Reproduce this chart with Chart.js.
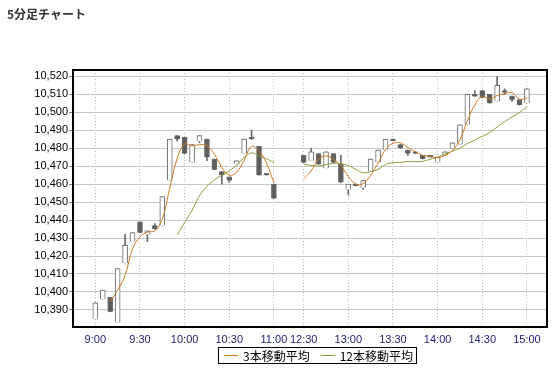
<!DOCTYPE html>
<html lang="ja">
<head>
<meta charset="UTF-8">
<title>5分足チャート</title>
<script src="https://cdn.jsdelivr.net/npm/chart.js"></script>
<style>
    body {
        margin: 0;
        background: #fff;
        font-family: 'Liberation Sans', Arial, 'Noto Sans CJK JP', sans-serif;
    }
    #wrap {
        position: relative;
        width: 559px;
        height: 368px;
    }
    #title {
        position: absolute;
        left: 7px;
        top: 6px;
        font: bold 12px 'Noto Sans CJK JP', sans-serif;
        line-height: 16px;
        color: #333;
    }
    #legend {
        position: absolute;
        left: 218px;
        top: 347px;
        width: 197px;
        height: 15px;
        border: 1px solid #000;
        display: flex;
        align-items: center;
        font: 12px 'Noto Sans CJK JP', sans-serif;
        line-height: 15px;
        color: #000;
    }
    .swatch {
        display: inline-block;
        width: 14px;
        height: 1px;
        margin: 0 5px 0 5px;
    }
</style>
</head>
<body>
<div id="wrap">
    <canvas id="chart" width="559" height="368"></canvas>
    <div id="title">5分足チャート</div>
    <div id="legend">
        <span class="swatch" style="background:#cc7a22"></span><span>3本移動平均</span>
        <span class="swatch" style="background:#8a9b3a; margin-left:11px"></span><span>12本移動平均</span>
    </div>
</div>

<script>
    // 5-minute bars: morning 9:00-11:00, afternoon 12:30-15:00
    const times = ['9:00','9:05','9:10','9:15','9:20','9:25','9:30','9:35','9:40','9:45','9:50','9:55',
        '10:00','10:05','10:10','10:15','10:20','10:25','10:30','10:35','10:40','10:45','10:50','10:55','11:00',
        '12:30','12:35','12:40','12:45','12:50','12:55','13:00','13:05','13:10','13:15','13:20','13:25',
        '13:30','13:35','13:40','13:45','13:50','13:55','14:00','14:05','14:10','14:15','14:20','14:25',
        '14:30','14:35','14:40','14:45','14:50','14:55','15:00'];

    const open = [10385,10396,10397,10383,10416,10428,10439,10432,10437,10437,10462,10487,
        10486,10472,10484,10485,10474,10467,10464,10471,10477,10486,10481,10466,10460,
        10476,10473,10477,10469,10477,10471,10457,10460,10458,10467,10472,10479,
        10485,10482,10479,10478,10476,10476,10472,10476,10480,10482,10493,10510,
        10512,10510,10506,10512,10509,10507,10505];
    const high = [10394,10401,10397,10413,10432,10433,10439,10434,10438,10453,10485,10487,
        10486,10482,10487,10485,10474,10467,10464,10473,10485,10490,10481,10466,10460,
        10476,10480,10477,10478,10477,10476,10460,10460,10462,10474,10479,10485,
        10485,10482,10479,10478,10476,10476,10475,10478,10483,10493,10510,10512,
        10512,10510,10520,10513,10509,10507,10513];
    const low = [10385,10396,10389,10383,10416,10428,10433,10428,10435,10437,10462,10484,
        10477,10472,10483,10473,10468,10460,10461,10471,10477,10485,10465,10465,10452,
        10472,10473,10471,10469,10472,10461,10454,10459,10457,10467,10472,10479,
        10484,10480,10476,10477,10474,10475,10472,10476,10480,10482,10493,10509,
        10508,10505,10506,10510,10506,10504,10505];
    const close = [10394,10401,10389,10413,10426,10433,10433,10434,10435,10453,10485,10485,
        10477,10482,10487,10475,10468,10465,10462,10473,10485,10485,10465,10465,10452,
        10472,10478,10471,10478,10472,10461,10460,10459,10462,10474,10479,10485,
        10484,10480,10477,10477,10474,10475,10475,10478,10483,10493,10510,10509,
        10508,10505,10515,10511,10507,10504,10513];

    const ma3 = [null,null,10394.7,10401,10409.3,10424,10430.7,10433.3,10434,10440.7,10457.7,10474.3,
        10482.3,10481.3,10482,10481.3,10476.7,10469.3,10465,10466.7,10473.3,10481,10478.3,10471.7,10460.7,
        10463,10467.3,10473.7,10475.7,10473.7,10470.3,10464.3,10460,10460.3,10465,10471.7,10479.3,
        10482.7,10483,10480.3,10478,10476,10475.3,10474.7,10476,10478.7,10484.7,10495.3,10504,
        10509,10507.3,10509.3,10510.3,10511,10507.3,10508];
    const ma12 = [null,null,null,null,null,null,null,null,null,null,null,10431.8,
        10438.7,10445.4,10453.6,10458.8,10462.3,10464.9,10467.3,10470.6,10474.8,10477.4,10475.8,10474.1,10472,
        10471.2,10470.4,10470.1,10470.9,10471.5,10471.4,10470.3,10468.2,10466.3,10467,10468.2,10470.9,
        10471.9,10472.1,10472.6,10472.5,10472.7,10473.8,10475.1,10476.7,10478.4,10480,10482.6,10484.6,
        10486.6,10488.7,10491.8,10494.7,10497.4,10499.8,10503];

    const xTickLabels = ['9:00','9:30','10:00','10:30','11:00','12:30','13:00','13:30','14:00','14:30','15:00'];
    const yTicks = [10390,10400,10410,10420,10430,10440,10450,10460,10470,10480,10490,10500,10510,10520];

    const morningBars = 25;
    const lunchGap = 3;   // empty slots between 11:00 and 12:30
    const slotOf = i => i < morningBars ? i : i + lunchGap;

    function linePoints(values) {
        const pts = [];
        values.forEach((v, i) => {
            if (i === morningBars) pts.push({ x: morningBars + 1, y: null });
            pts.push({ x: slotOf(i), y: v });
        });
        return pts;
    }

    const bodies = times.map((t, i) => ({ x: slotOf(i), y: [open[i], close[i]] }));
    const wicks = times.map((t, i) => ({ x: slotOf(i), y: [low[i], high[i]] }));

    const frame = {
        id: 'frame',
        afterDraw(c) {
            const { ctx, chartArea: a } = c;
            ctx.save();
            ctx.strokeStyle = '#000';
            ctx.lineWidth = 2;
            ctx.strokeRect(a.left, a.top, a.right - a.left, a.bottom - a.top);
            ctx.restore();
        }
    };

    new Chart(document.getElementById('chart'), {
        type: 'bar',
        data: {
            datasets: [
                {
                    type: 'line', label: '3本移動平均', data: linePoints(ma3),
                    borderColor: '#cc7a22', borderWidth: 1, pointRadius: 0, tension: 0.4, order: 0
                },
                {
                    type: 'line', label: '12本移動平均', data: linePoints(ma12),
                    borderColor: '#8a9b3a', borderWidth: 1, pointRadius: 0, tension: 0.4, order: 0
                },
                {
                    label: 'body', data: bodies, grouped: false, order: 1,
                    barThickness: 5, minBarLength: 1, borderWidth: 1, borderColor: '#6a6a6a',
                    backgroundColor: ctx => close[ctx.dataIndex] >= open[ctx.dataIndex] ? '#ffffff' : '#5e5e5e'
                },
                {
                    label: 'wick', data: wicks, grouped: false, order: 2,
                    barThickness: 1, backgroundColor: '#6a6a6a'
                }
            ]
        },
        options: {
            responsive: false,
            animation: false,
            layout: { padding: { top: 70, right: 12, left: 0, bottom: 0 } },
            plugins: { legend: { display: false }, tooltip: { enabled: false } },
            scales: {
                x: {
                    type: 'linear', min: -3, max: 60.7, offset: false,
                    grid: { color: '#bdbdbd', drawTicks: false, offset: false },
                    border: { display: false, dash: [1, 2] },
                    ticks: {
                        color: '#1c1c6e', padding: 6, autoSkip: false, maxRotation: 0,
                        font: { size: 11, family: "'Liberation Sans', Arial" },
                        callback: v => {
                            const t = xTickLabels.find(l => slotOf(times.indexOf(l)) === v);
                            return t || '';
                        }
                    },
                    afterBuildTicks: s => { s.ticks = xTickLabels.map(l => ({ value: slotOf(times.indexOf(l)) })); },
                    afterFit: s => { s.height = 41; }
                },
                y: {
                    min: 10380.5, max: 10523.5,
                    grid: { color: '#c8c8c8', tickLength: 4, tickColor: '#808080' },
                    border: { display: false },
                    ticks: {
                        color: '#000', padding: 1,
                        font: { size: 11, family: "'Liberation Sans', Arial" },
                        callback: v => v.toLocaleString('en-US')
                    },
                    afterBuildTicks: s => { s.ticks = yTicks.map(v => ({ value: v })); },
                    afterFit: s => { s.width = 73; }
                }
            }
        },
        plugins: [frame]
    });
</script>
</body>
</html>
